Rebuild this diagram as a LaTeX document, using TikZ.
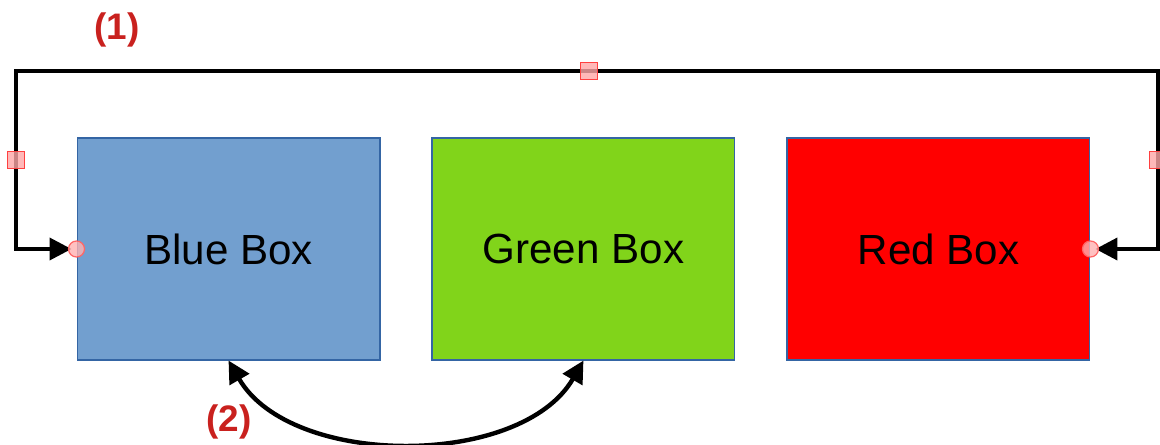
\documentclass[tikz,border=0pt]{standalone}
\usepackage{fontspec}
\setmainfont{Liberation Sans}
\usepackage{tikz}
\usetikzlibrary{arrows.meta,positioning}
\definecolor{boxblue}{HTML}{729FCF}
\definecolor{boxgreen}{HTML}{81D41A}
\definecolor{boxred}{HTML}{FF0000}
\definecolor{boxline}{HTML}{3465A4}
\definecolor{labred}{HTML}{C9211E}
\tikzset{
	shapebox/.style={rectangle, draw=boxline, line width=0.6pt, minimum width=6.06cm, minimum height=4.44cm, inner sep=0pt, font=\fontsize{24}{28}\selectfont}
}
\tikzset{
	conn/.style={line width=2.2pt, {Triangle[length=0.44cm,width=0.44cm]}-{Triangle[length=0.44cm,width=0.44cm]}}
}
\tikzset{
	handlesq/.style={rectangle, draw=red!75, fill=red!35, fill opacity=0.8, line width=0.7pt, minimum size=0.34cm, inner sep=0pt},
	handleci/.style={circle, draw=red!60, fill=red!30, fill opacity=0.8, line width=0.7pt, minimum size=0.32cm, inner sep=0pt},
	steplabel/.style={text=labred, font=\fontsize{21}{25}\bfseries\selectfont}
}
\begin{document}
\begin{tikzpicture}[x=0.02cm,y=0.02cm]
			\useasboundingbox (0,0) rectangle (1160,444);
			\node[shapebox, fill=boxblue] (blue) at (228.5,195) {Blue Box};
			\node[shapebox, fill=boxgreen, right=1.02cm of blue] (green) {Green Box};
			\node[shapebox, fill=boxred, right=1.02cm of green] (red) {Red Box};
			\coordinate (ur) at (1158,373);
			\coordinate (ul) at (16,373);
			\coordinate (topmid) at (589,373);
			% connector (1), round the top
			\draw[conn, shorten <=0.1cm, shorten >=0.1cm] (red.east) -| (ur) -- (ul) |- (blue.west);
			\node[handleci] (cb) at (blue.west) {};
			\node[handleci] (cr) at (red.east) {};
			\node[handlesq] (hl) at (16,284) {};
			\node[handlesq] (ht) at (topmid) {};
			\node[handlesq] (hr) at (1158,284) {};
			% connector (2), under the boxes
			\draw[conn, line width=2.5pt] (blue.south) to[out=-60, in=-120, looseness=0.9] (green.south);
			\node[steplabel] (one) at (117,414) {(1)};
			\node[steplabel] (two) at (229,22) {(2)};
		\end{tikzpicture}
\end{document}
